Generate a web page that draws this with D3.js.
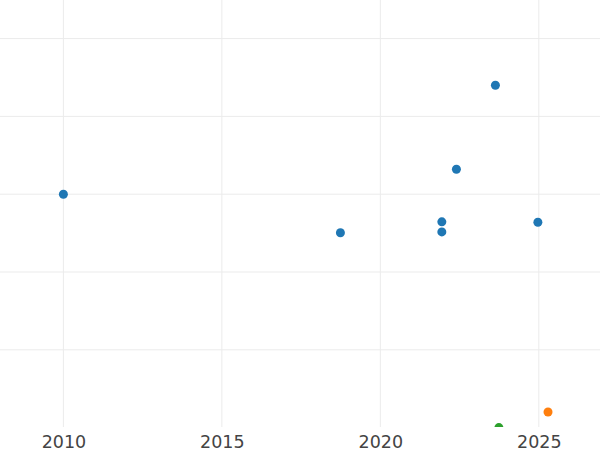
<!DOCTYPE html>
<html>
<head>
<meta charset="utf-8">
<script src="https://cdn.jsdelivr.net/npm/d3@7"></script>
<style>
  html, body { margin: 0; padding: 0; background: #ffffff; }
  svg { display: block; }
</style>
</head>
<body>
<div id="chart"></div>
<script>
// Data (years as decimal, values in arbitrary y units)
const seriesNames = ["A", "B", "C"];
const seriesColors = ["#1f77b4", "#ff7f0e", "#2ca02c"];
const xYears = [2010.0, 2018.74, 2021.94, 2021.94, 2022.40, 2023.63, 2024.97, 2025.29, 2023.74];
const yValues = [30.0, 25.05, 26.45, 25.15, 33.2, 44.0, 26.4, 2.0, 0.0];
const seriesIndex = [0, 0, 0, 0, 0, 0, 0, 1, 2];
const xTickValues = [2010, 2015, 2020, 2025];
const yTickValues = [10, 20, 30, 40, 50];

const W = 600, H = 450;
const plot = { left: 0, right: 600, top: 0, bottom: 427.6 };

const svg = d3.select("#chart").append("svg")
  .attr("width", W).attr("height", H);

const x = d3.scaleLinear().domain([2008.0, 2026.93]).range([plot.left, plot.right]);
const y = d3.scaleLinear().domain([0, 54.96]).range([plot.bottom, plot.top]);

svg.append("defs").append("clipPath").attr("id", "clip")
  .append("rect").attr("x", plot.left).attr("y", plot.top)
  .attr("width", plot.right - plot.left).attr("height", plot.bottom - plot.top - 0.6);

// Grid
const grid = svg.append("g").attr("clip-path", "url(#clip)");
grid.selectAll("line.h").data(yTickValues).join("line")
  .attr("class", "h")
  .attr("x1", plot.left).attr("x2", plot.right)
  .attr("y1", d => y(d)).attr("y2", d => y(d))
  .attr("stroke", "#ebebeb").attr("stroke-width", 1);
grid.selectAll("line.v").data(xTickValues).join("line")
  .attr("class", "v")
  .attr("y1", plot.top).attr("y2", plot.bottom)
  .attr("x1", d => x(d)).attr("x2", d => x(d))
  .attr("stroke", "#ebebeb").attr("stroke-width", 1);

// X axis labels
const xAxis = d3.axisBottom(x).tickValues(xTickValues).tickFormat(d3.format("d")).tickSize(0).tickPadding(0);
const gx = svg.append("g").attr("transform", `translate(0, ${plot.bottom})`).call(xAxis);
gx.select(".domain").remove();
gx.selectAll("text")
  .attr("dy", null)
  .attr("y", 20)
  .attr("fill", "#444444")
  .style("font-family", "'DejaVu Sans', sans-serif")
  .style("font-size", "17.5px");

// Points
const pts = xYears.map((d, i) => ({ x: d, y: yValues[i], s: seriesIndex[i] }));
svg.append("g").attr("clip-path", "url(#clip)")
  .selectAll("circle").data(pts).join("circle")
  .attr("cx", d => x(d.x))
  .attr("cy", d => y(d.y))
  .attr("r", 4.5)
  .attr("fill", d => seriesColors[d.s]);
</script>
</body>
</html>
